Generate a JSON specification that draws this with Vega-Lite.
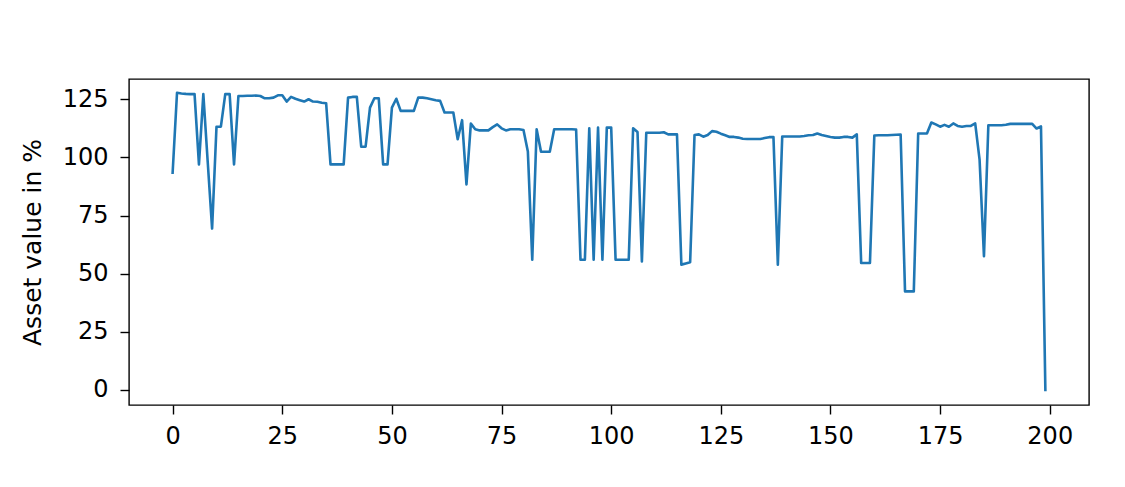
{
  "$schema": "https://vega.github.io/schema/vega-lite/v6.json",
  "width": 960,
  "height": 326,
  "autosize": "none",
  "padding": {"left": 129, "top": 79, "right": 36, "bottom": 82},
  "background": "white",
  "config": {
    "view": {"stroke": "#000000", "strokeWidth": 1.4},
    "font": "DejaVu Sans",
    "axis": {
      "domain": false,
      "grid": false,
      "tickColor": "#000000",
      "tickWidth": 1.4,
      "tickSize": 9,
      "labelFont": "DejaVu Sans",
      "labelFontSize": 24,
      "labelColor": "#000000",
      "titleFont": "DejaVu Sans",
      "titleFontSize": 25,
      "titleFontWeight": "normal",
      "titleColor": "#000000"
    }
  },
  "data": {
    "values": [
      {"t":0,"v":93.4},{"t":1,"v":127.8},{"t":2,"v":127.5},{"t":3,"v":127.3},{"t":4,"v":127.2},
      {"t":5,"v":127.2},{"t":6,"v":97},{"t":7,"v":127.2},{"t":8,"v":98},{"t":9,"v":69.4},
      {"t":10,"v":113.2},{"t":11,"v":113.2},{"t":12,"v":127.2},{"t":13,"v":127.2},{"t":14,"v":97},
      {"t":15,"v":126.4},{"t":16,"v":126.4},{"t":17,"v":126.5},{"t":18,"v":126.5},{"t":19,"v":126.6},
      {"t":20,"v":126.4},{"t":21,"v":125.4},{"t":22,"v":125.4},{"t":23,"v":125.7},{"t":24,"v":126.7},
      {"t":25,"v":126.7},{"t":26,"v":124},{"t":27,"v":126},{"t":28,"v":125.2},{"t":29,"v":124.6},
      {"t":30,"v":124},{"t":31,"v":125},{"t":32,"v":124},{"t":33,"v":123.9},{"t":34,"v":123.5},
      {"t":35,"v":123.3},{"t":36,"v":97},{"t":37,"v":97},{"t":38,"v":97},{"t":39,"v":97},
      {"t":40,"v":125.7},{"t":41,"v":126},{"t":42,"v":126},{"t":43,"v":104.6},{"t":44,"v":104.6},
      {"t":45,"v":121.4},{"t":46,"v":125.4},{"t":47,"v":125.4},{"t":48,"v":97},{"t":49,"v":97},
      {"t":50,"v":121.4},{"t":51,"v":125.2},{"t":52,"v":120},{"t":53,"v":120},{"t":54,"v":120},
      {"t":55,"v":120},{"t":56,"v":125.7},{"t":57,"v":125.7},{"t":58,"v":125.4},{"t":59,"v":125},
      {"t":60,"v":124.6},{"t":61,"v":124.3},{"t":62,"v":119.3},{"t":63,"v":119.3},{"t":64,"v":119.3},
      {"t":65,"v":107.8},{"t":66,"v":116},{"t":67,"v":88.4},{"t":68,"v":114.5},{"t":69,"v":112.1},
      {"t":70,"v":111.6},{"t":71,"v":111.6},{"t":72,"v":111.6},{"t":73,"v":113},{"t":74,"v":114.2},
      {"t":75,"v":112.5},{"t":76,"v":111.6},{"t":77,"v":112.1},{"t":78,"v":112.1},{"t":79,"v":112.1},
      {"t":80,"v":111.8},{"t":81,"v":102.5},{"t":82,"v":56},{"t":83,"v":112.1},{"t":84,"v":102.4},
      {"t":85,"v":102.4},{"t":86,"v":102.4},{"t":87,"v":112.1},{"t":88,"v":112.1},{"t":89,"v":112.1},
      {"t":90,"v":112.1},{"t":91,"v":112.1},{"t":92,"v":112},{"t":93,"v":56},{"t":94,"v":56},
      {"t":95,"v":112.5},{"t":96,"v":56},{"t":97,"v":112.8},{"t":98,"v":56},{"t":99,"v":112.8},
      {"t":100,"v":112.8},{"t":101,"v":56},{"t":102,"v":56},{"t":103,"v":56},{"t":104,"v":56},
      {"t":105,"v":112.5},{"t":106,"v":110.9},{"t":107,"v":55.3},{"t":108,"v":110.6},{"t":109,"v":110.6},
      {"t":110,"v":110.6},{"t":111,"v":110.6},{"t":112,"v":110.8},{"t":113,"v":109.9},{"t":114,"v":109.9},
      {"t":115,"v":109.9},{"t":116,"v":53.9},{"t":117,"v":54.4},{"t":118,"v":54.9},{"t":119,"v":109.6},
      {"t":120,"v":109.9},{"t":121,"v":108.9},{"t":122,"v":109.6},{"t":123,"v":111.3},{"t":124,"v":111},
      {"t":125,"v":110.2},{"t":126,"v":109.5},{"t":127,"v":108.8},{"t":128,"v":108.8},{"t":129,"v":108.5},
      {"t":130,"v":108},{"t":131,"v":107.9},{"t":132,"v":107.9},{"t":133,"v":107.9},{"t":134,"v":107.9},
      {"t":135,"v":108.3},{"t":136,"v":108.7},{"t":137,"v":108.7},{"t":138,"v":53.9},{"t":139,"v":109},
      {"t":140,"v":109},{"t":141,"v":109},{"t":142,"v":109},{"t":143,"v":109},{"t":144,"v":109.2},
      {"t":145,"v":109.5},{"t":146,"v":109.6},{"t":147,"v":110.3},{"t":148,"v":109.6},{"t":149,"v":109.2},
      {"t":150,"v":108.8},{"t":151,"v":108.5},{"t":152,"v":108.5},{"t":153,"v":108.8},{"t":154,"v":108.8},
      {"t":155,"v":108.5},{"t":156,"v":109.9},{"t":157,"v":54.6},{"t":158,"v":54.6},{"t":159,"v":54.6},
      {"t":160,"v":109.4},{"t":161,"v":109.5},{"t":162,"v":109.5},{"t":163,"v":109.5},{"t":164,"v":109.6},
      {"t":165,"v":109.7},{"t":166,"v":109.8},{"t":167,"v":42.4},{"t":168,"v":42.4},{"t":169,"v":42.4},
      {"t":170,"v":110.3},{"t":171,"v":110.3},{"t":172,"v":110.3},{"t":173,"v":115},{"t":174,"v":114.2},
      {"t":175,"v":113.2},{"t":176,"v":114},{"t":177,"v":113.2},{"t":178,"v":114.6},{"t":179,"v":113.5},
      {"t":180,"v":113.2},{"t":181,"v":113.5},{"t":182,"v":113.5},{"t":183,"v":114.6},{"t":184,"v":99},
      {"t":185,"v":57.5},{"t":186,"v":113.8},{"t":187,"v":113.8},{"t":188,"v":113.8},{"t":189,"v":113.8},
      {"t":190,"v":114},{"t":191,"v":114.4},{"t":192,"v":114.4},{"t":193,"v":114.4},{"t":194,"v":114.4},
      {"t":195,"v":114.4},{"t":196,"v":114.4},{"t":197,"v":112.4},{"t":198,"v":113.3},{"t":199,"v":0}
    ]
  },
  "mark": {"type": "line", "color": "#1f77b4", "strokeWidth": 2.6, "strokeJoin": "round", "strokeCap": "square", "clip": true},
  "encoding": {
    "x": {
      "field": "t",
      "type": "quantitative",
      "scale": {"domain": [-9.95, 208.95], "nice": false, "zero": false},
      "axis": {"title": null, "values": [0, 25, 50, 75, 100, 125, 150, 175, 200], "labelPadding": 10, "labelFlush": false, "labelOverlap": false}
    },
    "y": {
      "field": "v",
      "type": "quantitative",
      "scale": {"domain": [-6.45, 133.7], "nice": false, "zero": false},
      "axis": {"title": "Asset value in %", "values": [0, 25, 50, 75, 100, 125], "labelPadding": 12, "labelFlush": false, "labelOverlap": false, "titleX": -89, "titleY": 163, "titleBaseline": "alphabetic", "titleAngle": -90, "titleAlign": "center"}
    }
  }
}
